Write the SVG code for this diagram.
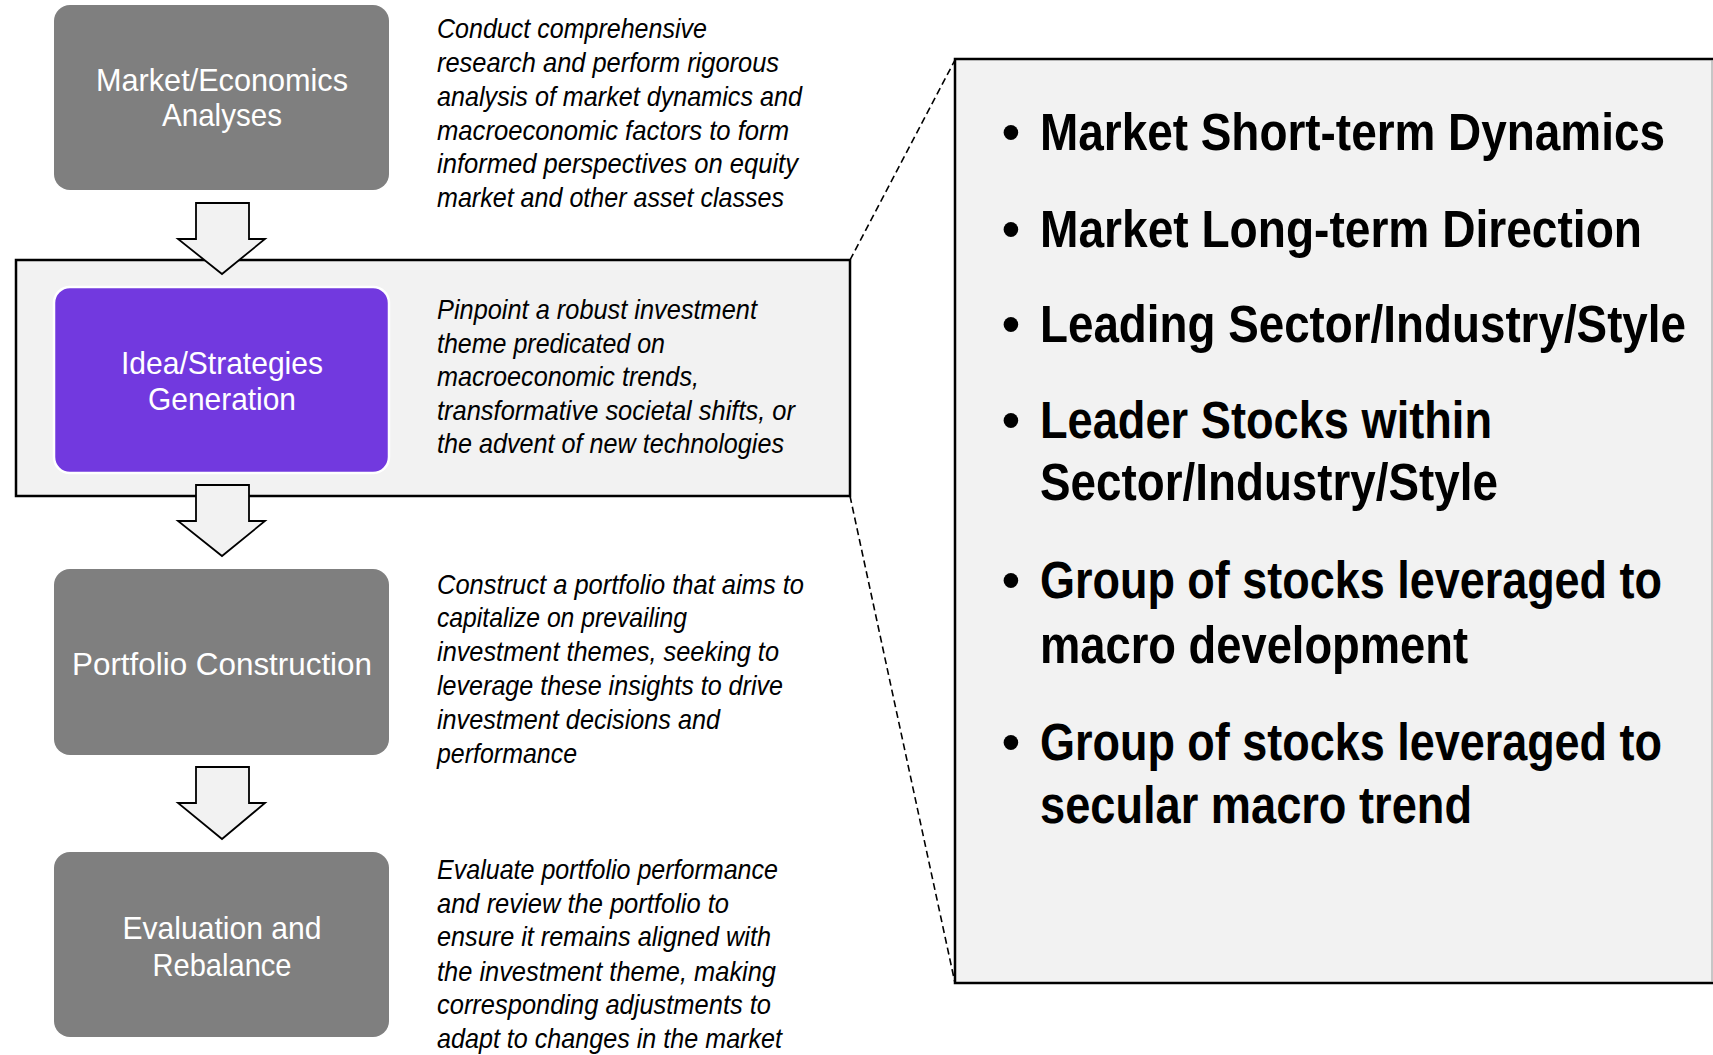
<svg xmlns="http://www.w3.org/2000/svg" width="1713" height="1055" viewBox="0 0 1713 1055">
<style>
.box{fill:#7f7f7f;}
.boxp{fill:#7239df;stroke:#ffffff;stroke-width:2.5;}
.lbl{font-family:"Liberation Sans Narrow","Liberation Sans",Arial,sans-serif;font-size:32px;fill:#ffffff;text-anchor:middle;}
.desc{font-family:"Liberation Sans Narrow","Liberation Sans",Arial,sans-serif;font-size:28px;font-style:italic;fill:#000000;}
.bul{font-family:"Liberation Sans Narrow","Liberation Sans",Arial,sans-serif;font-size:51px;font-weight:bold;fill:#000000;}
.arrow{fill:#f2f2f2;stroke:#000000;stroke-width:1.8;stroke-linejoin:miter;}
.dash{fill:none;stroke:#000000;stroke-width:1.6;stroke-dasharray:7,4;}
</style>
<rect width="1713" height="1055" fill="#ffffff"/>

<g id="highlight-frame">
<rect x="16" y="260" width="834" height="236" fill="#f2f2f2" stroke="#000000" stroke-width="2.5"/>
</g>

<g id="detail-panel">
<rect x="955" y="59" width="762" height="924" fill="#f2f2f2" stroke="#000000" stroke-width="2.5"/>
<line x1="1712" y1="60" x2="1712" y2="982" stroke="#9a9a9a" stroke-width="1"/>
<text class="bul" x="1011" y="150" text-anchor="middle">•</text>
<text class="bul" x="1040" y="150" textLength="625" lengthAdjust="spacingAndGlyphs">Market Short-term Dynamics</text>
<text class="bul" x="1011" y="247" text-anchor="middle">•</text>
<text class="bul" x="1040" y="247" textLength="602" lengthAdjust="spacingAndGlyphs">Market Long-term Direction</text>
<text class="bul" x="1011" y="342" text-anchor="middle">•</text>
<text class="bul" x="1040" y="342" textLength="646" lengthAdjust="spacingAndGlyphs">Leading Sector/Industry/Style</text>
<text class="bul" x="1011" y="438" text-anchor="middle">•</text>
<text class="bul" x="1040" y="438" textLength="452" lengthAdjust="spacingAndGlyphs">Leader Stocks within</text>
<text class="bul" x="1040" y="500" textLength="458" lengthAdjust="spacingAndGlyphs">Sector/Industry/Style</text>
<text class="bul" x="1011" y="598" text-anchor="middle">•</text>
<text class="bul" x="1040" y="598" textLength="622" lengthAdjust="spacingAndGlyphs">Group of stocks leveraged to</text>
<text class="bul" x="1040" y="663" textLength="428" lengthAdjust="spacingAndGlyphs">macro development</text>
<text class="bul" x="1011" y="760" text-anchor="middle">•</text>
<text class="bul" x="1040" y="760" textLength="622" lengthAdjust="spacingAndGlyphs">Group of stocks leveraged to</text>
<text class="bul" x="1040" y="823" textLength="432" lengthAdjust="spacingAndGlyphs">secular macro trend</text>
</g>

<g id="connectors">
<path class="arrow" d="M196,203 H249 V239 H265 L222,274 L178,239 H196 Z"/>
<path class="arrow" d="M196,485 H249 V521 H265 L222,556 L178,521 H196 Z"/>
<path class="arrow" d="M196,767 H249 V803 H265 L222,839 L178,803 H196 Z"/>
<line class="dash" x1="850" y1="260" x2="955" y2="60"/>
<line class="dash" x1="850" y1="496" x2="955" y2="983"/>
</g>

<g id="node-market">
<rect class="box" x="54" y="5" width="335" height="185" rx="16"/>
<text class="lbl" x="222" y="91" textLength="252" lengthAdjust="spacingAndGlyphs">Market/Economics</text>
<text class="lbl" x="222" y="126" textLength="120" lengthAdjust="spacingAndGlyphs">Analyses</text>
</g>
<g id="desc-market">
<text class="desc" x="437" y="38" textLength="270" lengthAdjust="spacingAndGlyphs">Conduct comprehensive</text>
<text class="desc" x="437" y="72" textLength="342" lengthAdjust="spacingAndGlyphs">research and perform rigorous</text>
<text class="desc" x="437" y="106" textLength="365" lengthAdjust="spacingAndGlyphs">analysis of market dynamics and</text>
<text class="desc" x="437" y="140" textLength="352" lengthAdjust="spacingAndGlyphs">macroeconomic factors to form</text>
<text class="desc" x="437" y="173" textLength="361" lengthAdjust="spacingAndGlyphs">informed perspectives on equity</text>
<text class="desc" x="437" y="207" textLength="347" lengthAdjust="spacingAndGlyphs">market and other asset classes</text>
</g>

<g id="node-idea">
<rect class="boxp" x="54" y="287" width="335" height="186" rx="16"/>
<text class="lbl" x="222" y="374" textLength="202" lengthAdjust="spacingAndGlyphs">Idea/Strategies</text>
<text class="lbl" x="222" y="410" textLength="148" lengthAdjust="spacingAndGlyphs">Generation</text>
</g>
<g id="desc-idea">
<text class="desc" x="437" y="319" textLength="320" lengthAdjust="spacingAndGlyphs">Pinpoint a robust investment</text>
<text class="desc" x="437" y="353" textLength="228" lengthAdjust="spacingAndGlyphs">theme predicated on</text>
<text class="desc" x="437" y="386" textLength="262" lengthAdjust="spacingAndGlyphs">macroeconomic trends,</text>
<text class="desc" x="437" y="420" textLength="358" lengthAdjust="spacingAndGlyphs">transformative societal shifts, or</text>
<text class="desc" x="437" y="453" textLength="347" lengthAdjust="spacingAndGlyphs">the advent of new technologies</text>
</g>

<g id="node-portfolio">
<rect class="box" x="54" y="569" width="335" height="186" rx="16"/>
<text class="lbl" x="222" y="675" textLength="300" lengthAdjust="spacingAndGlyphs">Portfolio Construction</text>
</g>
<g id="desc-portfolio">
<text class="desc" x="437" y="594" textLength="367" lengthAdjust="spacingAndGlyphs">Construct a portfolio that aims to</text>
<text class="desc" x="437" y="627" textLength="250" lengthAdjust="spacingAndGlyphs">capitalize on prevailing</text>
<text class="desc" x="437" y="661" textLength="342" lengthAdjust="spacingAndGlyphs">investment themes, seeking to</text>
<text class="desc" x="437" y="695" textLength="346" lengthAdjust="spacingAndGlyphs">leverage these insights to drive</text>
<text class="desc" x="437" y="729" textLength="283" lengthAdjust="spacingAndGlyphs">investment decisions and</text>
<text class="desc" x="437" y="763" textLength="140" lengthAdjust="spacingAndGlyphs">performance</text>
</g>

<g id="node-evaluation">
<rect class="box" x="54" y="852" width="335" height="185" rx="16"/>
<text class="lbl" x="222" y="939" textLength="199" lengthAdjust="spacingAndGlyphs">Evaluation and</text>
<text class="lbl" x="222" y="976" textLength="139" lengthAdjust="spacingAndGlyphs">Rebalance</text>
</g>
<g id="desc-evaluation">
<text class="desc" x="437" y="879" textLength="341" lengthAdjust="spacingAndGlyphs">Evaluate portfolio performance</text>
<text class="desc" x="437" y="913" textLength="292" lengthAdjust="spacingAndGlyphs">and review the portfolio to</text>
<text class="desc" x="437" y="946" textLength="334" lengthAdjust="spacingAndGlyphs">ensure it remains aligned with</text>
<text class="desc" x="437" y="981" textLength="339" lengthAdjust="spacingAndGlyphs">the investment theme, making</text>
<text class="desc" x="437" y="1014" textLength="334" lengthAdjust="spacingAndGlyphs">corresponding adjustments to</text>
<text class="desc" x="437" y="1048" textLength="345" lengthAdjust="spacingAndGlyphs">adapt to changes in the market</text>
</g>
</svg>
